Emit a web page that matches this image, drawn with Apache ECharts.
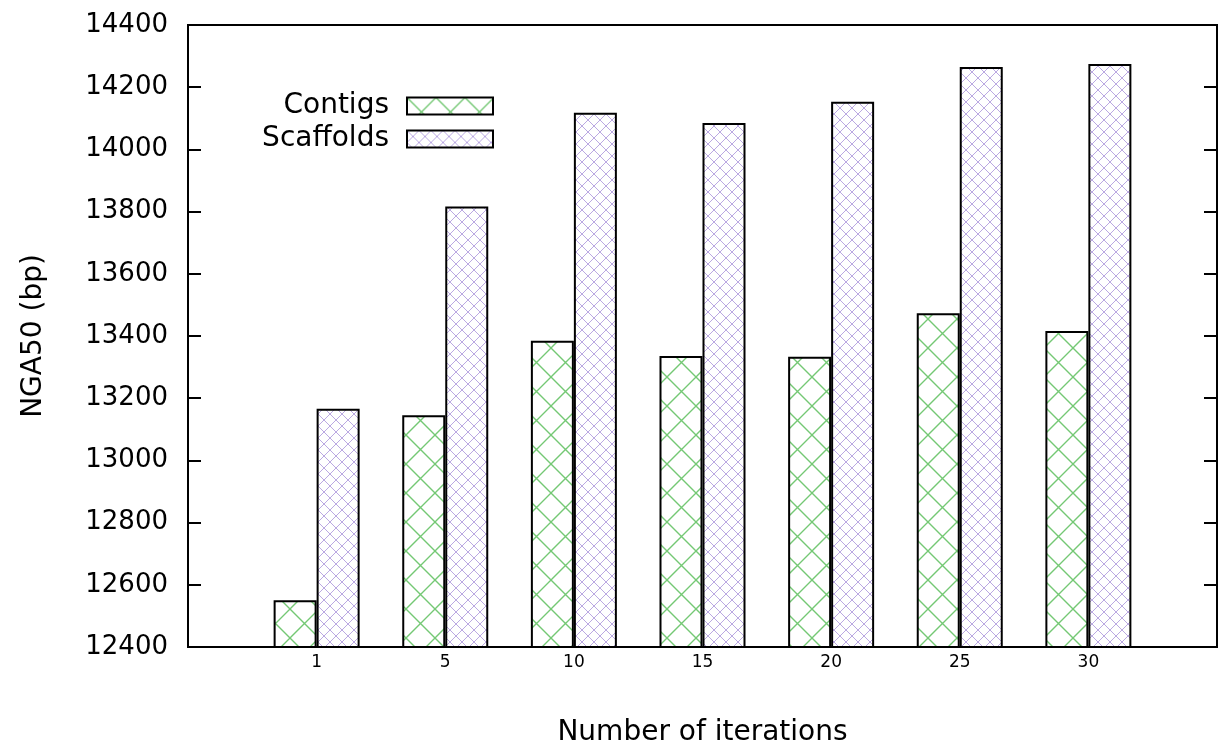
<!DOCTYPE html>
<html>
<head>
<meta charset="utf-8">
<title>NGA50 vs iterations</title>
<script src="https://cdn.jsdelivr.net/npm/echarts@6/dist/echarts.min.js"></script>
<style>
  html, body { margin: 0; padding: 0; background: #fff; }
  #chart { width: 1222px; height: 746px; }
</style>
</head>
<body>
<div id="chart"></div>
<script>
// Iteration counts (padded with blank slots so the groups sit one step in from each border)
const iterations = ['1', '5', '10', '15', '20', '25', '30'];
// NGA50 in bp
const contigs = [12550, 13145, 13385, 13336, 13333, 13473, 13416];
const scaffolds = [13166, 13816, 14118, 14085, 14153, 14265, 14275];
const yTicks = { min: 12400, max: 14400, step: 200 };

const FONT = 'DejaVu Sans';

// Cross-hatch tile used as a bar fill
function hatch(size, color, lw) {
  const c = document.createElement('canvas');
  c.width = size; c.height = size;
  const g = c.getContext('2d');
  g.strokeStyle = color;
  g.lineWidth = lw;
  g.beginPath();
  g.moveTo(-1, -1); g.lineTo(size + 1, size + 1);
  g.moveTo(size + 1, -1); g.lineTo(-1, size + 1);
  g.stroke();
  return { image: c, repeat: 'repeat' };
}

const greenFill = hatch(29, '#74c874', 1.4);
const purpleFill = hatch(12, '#bba9e2', 1);

const cats = [''].concat(iterations, ['']);
const pad = arr => [null].concat(arr, [null]);

const chart = echarts.init(document.getElementById('chart'));
chart.setOption({
  animation: false,
  backgroundColor: '#fff',
  textStyle: { fontFamily: FONT, color: '#000' },
  grid: {
    left: 188, right: 5, top: 25, bottom: 99,
    outerBoundsMode: 'none',
    containLabel: false,
    show: true, borderColor: '#000', borderWidth: 2, backgroundColor: 'transparent'
  },
  legend: {
    orient: 'vertical',
    align: 'right',
    right: 723,
    top: 87,
    icon: 'rect',
    itemWidth: 86,
    itemHeight: 17,
    itemGap: 5,
    selectedMode: false,
    textStyle: { fontFamily: FONT, fontSize: 28, color: '#000', lineHeight: 17, padding: [0, 13, 0, 0] },
    data: ['Contigs', 'Scaffolds']
  },
  xAxis: {
    type: 'category',
    data: cats,
    boundaryGap: false,
    name: 'Number of iterations',
    nameLocation: 'middle',
    nameGap: 72,
    nameTextStyle: { fontFamily: FONT, fontSize: 28, color: '#000' },
    axisLine: { show: true, lineStyle: { color: '#000', width: 2 } },
    axisTick: { show: false },
    axisLabel: { fontFamily: FONT, fontSize: 17, color: '#000', margin: 7 },
    splitLine: { show: false }
  },
  yAxis: [
    {
      type: 'value',
      min: yTicks.min, max: yTicks.max, interval: yTicks.step,
      name: 'NGA50 (bp)',
      nameLocation: 'middle',
      nameGap: 140,
      nameTextStyle: { fontFamily: FONT, fontSize: 28, color: '#000' },
      axisLine: { show: true, lineStyle: { color: '#000', width: 2 } },
      axisTick: { show: true, inside: true, length: 13, lineStyle: { color: '#000', width: 2 } },
      axisLabel: { fontFamily: FONT, fontSize: 26, color: '#000', margin: 20, formatter: v => String(v) },
      splitLine: { show: false }
    },
    {
      type: 'value',
      position: 'right',
      min: yTicks.min, max: yTicks.max, interval: yTicks.step,
      axisLine: { show: true, lineStyle: { color: '#000', width: 2 } },
      axisTick: { show: true, inside: true, length: 13, lineStyle: { color: '#000', width: 2 } },
      axisLabel: { show: false },
      splitLine: { show: false }
    }
  ],
  series: [
    {
      name: 'Contigs',
      type: 'bar',
      data: pad(contigs),
      barWidth: 43,
      barGap: '0%',
      itemStyle: { color: greenFill, borderColor: '#000', borderWidth: 2 }
    },
    {
      name: 'Scaffolds',
      type: 'bar',
      data: pad(scaffolds),
      barWidth: 43,
      barGap: '0%',
      itemStyle: { color: purpleFill, borderColor: '#000', borderWidth: 2 }
    }
  ]
});
</script>
</body>
</html>
